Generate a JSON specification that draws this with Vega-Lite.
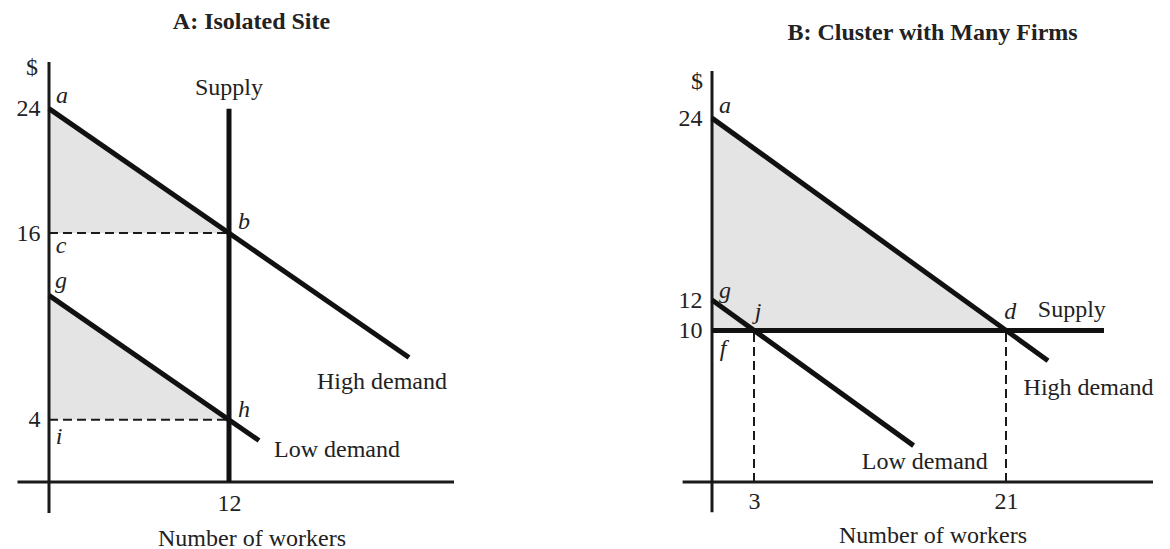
{
  "$schema": "https://vega.github.io/schema/vega-lite/v6.json",
  "background": "white",
  "padding": {"left": 16, "top": 10, "right": 5, "bottom": 0},
  "spacing": 222,
  "config": {
    "view": {"stroke": null},
    "font": "Liberation Serif",
    "axis": {
      "domain": false, "ticks": false, "grid": false,
      "labelFont": "Liberation Serif", "labelFontSize": 24, "labelColor": "#222",
      "titleFont": "Liberation Serif", "titleFontSize": 24, "titleFontWeight": "normal", "titleColor": "#222"
    },
    "title": {"font": "Liberation Serif", "fontSize": 24, "fontWeight": "bold", "color": "#222"}
  },
  "datasets": {
    "A_shade": [
      {"x": 0, "y": 24, "y2": 16, "region": "abc"},
      {"x": 12, "y": 16, "y2": 16, "region": "abc"},
      {"x": 0, "y": 12, "y2": 4, "region": "ghi"},
      {"x": 12, "y": 4, "y2": 4, "region": "ghi"}
    ],
    "A_lines": [
      {"name": "y axis", "kind": "axis", "x": 0, "y": -2, "x2": 0, "y2": 27},
      {"name": "x axis", "kind": "axis", "x": -2.1, "y": 0, "x2": 27, "y2": 0},
      {"name": "c-b", "kind": "guide", "x": 0, "y": 16, "x2": 12, "y2": 16},
      {"name": "i-h", "kind": "guide", "x": 0, "y": 4, "x2": 12, "y2": 4},
      {"name": "High demand", "kind": "curve", "x": 0, "y": 24, "x2": 24, "y2": 8},
      {"name": "Low demand", "kind": "curve", "x": 0, "y": 12, "x2": 14, "y2": 2.667},
      {"name": "Supply", "kind": "curve", "x": 12, "y": 0, "x2": 12, "y2": 24}
    ],
    "A_text": [
      {"kind": "label", "label": "$", "x": -1.13, "y": 26.6},
      {"kind": "label", "label": "Supply", "x": 12, "y": 25.3},
      {"kind": "label", "label": "High demand", "x": 22.2, "y": 6.4},
      {"kind": "label", "label": "Low demand", "x": 19.2, "y": 2.06},
      {"kind": "point", "label": "a", "x": 0.87, "y": 24.8},
      {"kind": "point", "label": "b", "x": 13, "y": 16.7},
      {"kind": "point", "label": "c", "x": 0.8, "y": 15.2},
      {"kind": "point", "label": "g", "x": 0.8, "y": 12.9},
      {"kind": "point", "label": "h", "x": 13, "y": 4.6},
      {"kind": "point", "label": "i", "x": 0.67, "y": 2.9}
    ],
    "B_shade": [
      {"x": 0, "y": 24, "y2": 10, "region": "adf"},
      {"x": 21, "y": 10, "y2": 10, "region": "adf"}
    ],
    "B_lines": [
      {"name": "y axis", "kind": "axis", "x": 0, "y": -2, "x2": 0, "y2": 27.1},
      {"name": "x axis", "kind": "axis", "x": -2.1, "y": 0, "x2": 31.5, "y2": 0},
      {"name": "j drop", "kind": "guide", "x": 3, "y": 0, "x2": 3, "y2": 10},
      {"name": "d drop", "kind": "guide", "x": 21, "y": 0, "x2": 21, "y2": 10},
      {"name": "High demand", "kind": "curve", "x": 0, "y": 24, "x2": 24, "y2": 8},
      {"name": "Low demand", "kind": "curve", "x": 0, "y": 12, "x2": 14.4, "y2": 2.4},
      {"name": "Supply", "kind": "curve", "x": 0, "y": 10, "x2": 28, "y2": 10}
    ],
    "B_text": [
      {"kind": "label", "label": "$", "x": -1.07, "y": 26.4},
      {"kind": "label", "label": "Supply", "x": 25.7, "y": 11.35},
      {"kind": "label", "label": "High demand", "x": 26.9, "y": 6.2},
      {"kind": "label", "label": "Low demand", "x": 15.2, "y": 1.3},
      {"kind": "point", "label": "a", "x": 0.93, "y": 24.8},
      {"kind": "point", "label": "g", "x": 0.93, "y": 12.6},
      {"kind": "point", "label": "j", "x": 3.3, "y": 11.2},
      {"kind": "point", "label": "d", "x": 21.3, "y": 11.2},
      {"kind": "point", "label": "f", "x": 0.8, "y": 8.8}
    ]
  },
  "hconcat": [
    {
      "width": 405,
      "height": 420,
      "title": {"text": "A: Isolated Site", "offset": 22},
      "encoding": {
        "x": {"field": "x", "type": "quantitative", "scale": {"domain": [0, 27], "nice": false, "zero": false},
              "axis": {"values": [12], "labelPadding": 9, "title": "Number of workers", "titlePadding": 11}},
        "y": {"field": "y", "type": "quantitative", "scale": {"domain": [0, 27], "nice": false, "zero": false},
              "axis": {"values": [4, 16, 24], "labelPadding": 9, "title": null}}
      },
      "layer": [
        {"data": {"name": "A_shade"}, "mark": {"type": "area", "color": "#e4e4e4", "interpolate": "linear"},
         "encoding": {"y2": {"field": "y2"}, "detail": {"field": "region"}}},
        {"data": {"name": "A_lines"}, "transform": [{"filter": "datum.kind === 'axis'"}],
         "mark": {"type": "rule", "color": "#1a1a1a", "strokeWidth": 3},
         "encoding": {"x2": {"field": "x2"}, "y2": {"field": "y2"}}},
        {"data": {"name": "A_lines"}, "transform": [{"filter": "datum.kind === 'guide'"}],
         "mark": {"type": "rule", "color": "#1a1a1a", "strokeWidth": 2, "strokeDash": [9, 5]},
         "encoding": {"x2": {"field": "x2"}, "y2": {"field": "y2"}}},
        {"data": {"name": "A_lines"}, "transform": [{"filter": "datum.kind === 'curve'"}],
         "mark": {"type": "rule", "color": "#111", "strokeWidth": 5},
         "encoding": {"x2": {"field": "x2"}, "y2": {"field": "y2"}}},
        {"data": {"name": "A_text"}, "transform": [{"filter": "datum.kind === 'label'"}],
         "mark": {"type": "text", "font": "Liberation Serif", "fontSize": 24, "color": "#222", "align": "center", "baseline": "middle"},
         "encoding": {"text": {"field": "label"}}},
        {"data": {"name": "A_text"}, "transform": [{"filter": "datum.kind === 'point'"}],
         "mark": {"type": "text", "font": "Liberation Serif", "fontSize": 24, "fontStyle": "italic", "color": "#222", "align": "center", "baseline": "middle"},
         "encoding": {"text": {"field": "label"}}}
      ]
    },
    {
      "width": 441,
      "height": 420,
      "title": {"text": "B: Cluster with Many Firms", "offset": 17},
      "encoding": {
        "x": {"field": "x", "type": "quantitative", "scale": {"domain": [0, 31.5], "nice": false, "zero": false},
              "axis": {"values": [3, 21], "labelPadding": 7, "title": "Number of workers", "titlePadding": 10}},
        "y": {"field": "y", "type": "quantitative", "scale": {"domain": [0, 27.7], "nice": false, "zero": false},
              "axis": {"values": [10, 12, 24], "labelPadding": 10, "title": null}}
      },
      "layer": [
        {"data": {"name": "B_shade"}, "mark": {"type": "area", "color": "#e4e4e4", "interpolate": "linear"},
         "encoding": {"y2": {"field": "y2"}, "detail": {"field": "region"}}},
        {"data": {"name": "B_lines"}, "transform": [{"filter": "datum.kind === 'axis'"}],
         "mark": {"type": "rule", "color": "#1a1a1a", "strokeWidth": 3},
         "encoding": {"x2": {"field": "x2"}, "y2": {"field": "y2"}}},
        {"data": {"name": "B_lines"}, "transform": [{"filter": "datum.kind === 'guide'"}],
         "mark": {"type": "rule", "color": "#1a1a1a", "strokeWidth": 2, "strokeDash": [9, 5]},
         "encoding": {"x2": {"field": "x2"}, "y2": {"field": "y2"}}},
        {"data": {"name": "B_lines"}, "transform": [{"filter": "datum.kind === 'curve'"}],
         "mark": {"type": "rule", "color": "#111", "strokeWidth": 5},
         "encoding": {"x2": {"field": "x2"}, "y2": {"field": "y2"}}},
        {"data": {"name": "B_text"}, "transform": [{"filter": "datum.kind === 'label'"}],
         "mark": {"type": "text", "font": "Liberation Serif", "fontSize": 24, "color": "#222", "align": "center", "baseline": "middle"},
         "encoding": {"text": {"field": "label"}}},
        {"data": {"name": "B_text"}, "transform": [{"filter": "datum.kind === 'point'"}],
         "mark": {"type": "text", "font": "Liberation Serif", "fontSize": 24, "fontStyle": "italic", "color": "#222", "align": "center", "baseline": "middle"},
         "encoding": {"text": {"field": "label"}}}
      ]
    }
  ]
}
